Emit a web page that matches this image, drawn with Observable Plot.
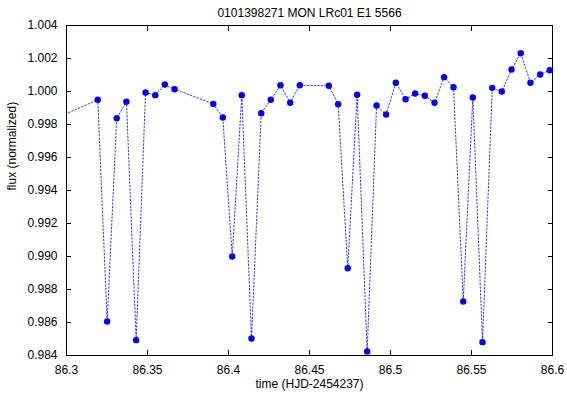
<!DOCTYPE html>
<html>
<head>
<meta charset="utf-8">
<script src="https://cdn.jsdelivr.net/npm/d3@7"></script>
<script src="https://cdn.jsdelivr.net/npm/@observablehq/plot@0.6"></script>
<style>
  body { margin: 0; background: #fff; }
  svg { font-family: "Liberation Sans", Arial, sans-serif; }
</style>
</head>
<body>
<div id="chart"></div>
<script>
const titleText = "0101398271 MON LRc01 E1 5566";
const xLabel = "time (HJD-2454237)";
const yLabel = "flux (normalized)";

const time = [86.2895, 86.3193, 86.3251, 86.3310, 86.3370, 86.3430, 86.3488, 86.3548, 86.3607, 86.3667,
  86.3906, 86.3965, 86.4023, 86.4082, 86.4142, 86.4202, 86.4261, 86.4321, 86.4381, 86.4440,
  86.4619, 86.4677, 86.4736, 86.4794, 86.4856, 86.4914, 86.4973, 86.5033, 86.5093, 86.5152,
  86.5212, 86.5272, 86.5331, 86.5389, 86.5449, 86.5508, 86.5568, 86.5628, 86.5687, 86.5747,
  86.5804, 86.5864, 86.5924, 86.5983];
const flux = [0.99820, 0.99950, 0.98606, 0.99838, 0.99938, 0.98493, 0.99994, 0.99978, 1.00042, 1.00014,
  0.99925, 0.99842, 0.99000, 0.99978, 0.98503, 0.99868, 0.99950, 1.00038, 0.99932, 1.00038,
  1.00035, 0.99923, 0.98929, 0.99980, 0.98424, 0.99915, 0.99861, 1.00053, 0.99953, 0.99988,
  0.99974, 0.99932, 1.00087, 1.00026, 0.98727, 0.99964, 0.98481, 1.00022, 1.00000, 1.00133,
  1.00232, 1.00053, 1.00103, 1.00129];

const xTicks = [86.3, 86.35, 86.4, 86.45, 86.5, 86.55, 86.6];
const yTicks = [0.984, 0.986, 0.988, 0.990, 0.992, 0.994, 0.996, 0.998, 1.000, 1.002, 1.004];

const data = time.map((t, i) => ({t, f: flux[i]}));
const inPlot = data.filter(d => d.t >= 86.3 && d.t <= 86.6);

const chart = Plot.plot({
  width: 567,
  height: 395,
  marginLeft: 66,
  marginRight: 15,
  marginTop: 25,
  marginBottom: 40,
  style: {fontFamily: "Liberation Sans, Arial, sans-serif", fontSize: "12px", color: "#000", background: "#fff"},
  x: {domain: [86.3, 86.6]},
  y: {domain: [0.984, 1.004]},
  marks: [
    Plot.frame({stroke: "#000", strokeWidth: 1}),
    Plot.axisX({anchor: "bottom", ticks: xTicks, tickSize: -5, tickPadding: 15, tickFormat: d => String(+d.toFixed(2)), label: null, fontSize: 12}),
    Plot.axisX({anchor: "top", ticks: xTicks, tickSize: -5, tickFormat: () => "", label: null}),
    Plot.axisY({anchor: "left", ticks: yTicks, tickSize: -5, tickPadding: 14, tickFormat: d => d.toFixed(3), label: null, fontSize: 12}),
    Plot.axisY({anchor: "right", ticks: yTicks, tickSize: -5, tickFormat: () => "", label: null}),
    Plot.line(data, {x: "t", y: "f", stroke: "#0000ff", strokeWidth: 1, strokeOpacity: 0.8, strokeDasharray: "1.5,2", clip: true}),
    Plot.dot(inPlot, {x: "t", y: "f", r: 3.2, fill: "#0000ff", stroke: "none"}),
    Plot.text([titleText], {frameAnchor: "top", dy: -17, fontSize: 12}),
    Plot.text([xLabel], {frameAnchor: "bottom", dy: 32, fontSize: 12}),
    Plot.text([yLabel], {frameAnchor: "left", dx: -54, rotate: -90, fontSize: 12})
  ]
});
document.getElementById("chart").appendChild(chart);
</script>
</body>
</html>
